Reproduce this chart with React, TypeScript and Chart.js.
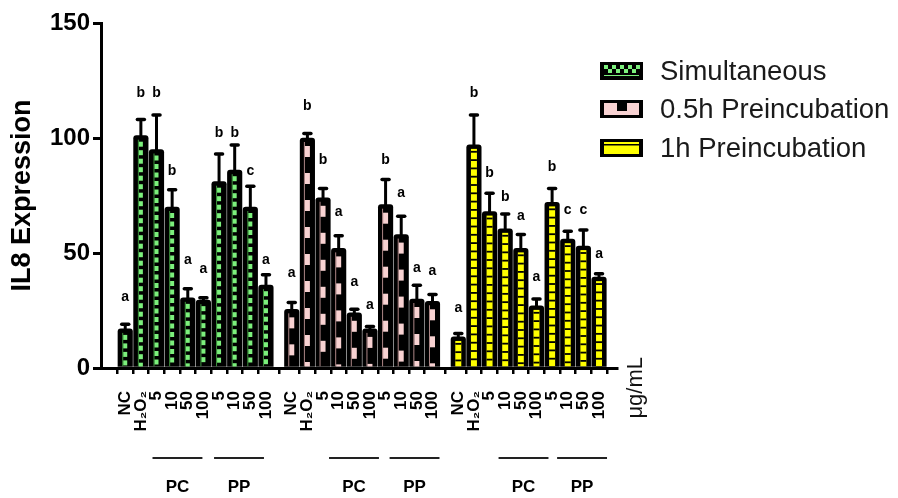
import React, { useEffect, useRef } from 'react';
import { Chart, registerables } from 'chart.js';

Chart.register(...registerables);

// ---------- data ----------
const X_LABELS = ['NC', 'H₂O₂', '5', '10', '50', '100', '5', '10', '50', '100'];
const SERIES_NAMES = ['Simultaneous', '0.5h Preincubation', '1h Preincubation'];
const GROUP_LABELS = ['PC', 'PP'];
const UNIT_LABEL = 'μg/mL';
const Y_TITLE = 'IL8 Expression';
const Y_TICKS = [0, 50, 100, 150];

const SIM_VALUES = [17, 101, 95, 70, 30.5, 29.5, 81, 86, 70, 36];
const SIM_ERRORS = [2, 7, 15, 7.5, 4, 1, 12, 11, 9, 4.5];
const SIM_LETTERS = ['a', 'b', 'b', 'b', 'a', 'a', 'b', 'b', 'c', 'a'];
const SIM_LETTER_LEVEL = [31, 119.6, 119.6, 85.7, 47, 43, 102, 102, 85.7, 47];

const PRE05_VALUES = [25.5, 100, 74, 52, 24, 17, 71, 58, 30, 29];
const PRE05_ERRORS = [3, 2, 4, 5.5, 1.5, 1, 11, 8, 6, 3];
const PRE05_LETTERS = ['a', 'b', 'b', 'a', 'a', 'a', 'b', 'a', 'a', 'a'];
const PRE05_LETTER_LEVEL = [41.3, 114, 90.4, 67.8, 37.4, 27.4, 90.4, 76, 43.5, 42];

const PRE1_VALUES = [13.5, 97, 68, 60.5, 52, 27, 72, 56, 53, 39.5];
const PRE1_ERRORS = [1.5, 13, 8, 6.5, 6, 3, 6, 3.5, 7, 1.5];
const PRE1_LETTERS = ['a', 'b', 'b', 'b', 'a', 'a', 'b', 'c', 'c', 'a'];
const PRE1_LETTER_LEVEL = [26, 119.6, 84.8, 74.3, 66, 39.6, 87.4, 68.7, 68.7, 49.6];

const VALUES = [SIM_VALUES, PRE05_VALUES, PRE1_VALUES];
const ERRORS = [SIM_ERRORS, PRE05_ERRORS, PRE1_ERRORS];
const LETTERS = [SIM_LETTERS, PRE05_LETTERS, PRE1_LETTERS];
const LETTER_LEVEL = [SIM_LETTER_LEVEL, PRE05_LETTER_LEVEL, PRE1_LETTER_LEVEL];

// ---------- layout / style ----------
const FONT = "'Liberation Sans', Arial, Helvetica, sans-serif";
const GROUP_STRIDE = 10.65;
const posOf = (g: number, i: number) => g * GROUP_STRIDE + i;
const ALL_POS: number[] = [];
for (let g = 0; g < 3; g++) for (let i = 0; i < X_LABELS.length; i++) ALL_POS.push(posOf(g, i));
const BRACKET_SHIFT = [[-2, -3], [8, 6], [11, 7]];

const GREEN = '#7CF07C';
const PINK = '#F8D2D2';
const YELLOW = '#FFFF00';

const decorPlugin = {
  id: 'decor',
  afterDatasetsDraw(chart: any) {
    const ctx = chart.ctx as CanvasRenderingContext2D;
    const yScale = chart.scales.y;
    for (let di = 0; di < chart.data.datasets.length; di++) {
      const meta = chart.getDatasetMeta(di);
      meta.data.forEach((bar: any, i: number) => {
        const { x, y, base, width } = bar.getProps(['x', 'y', 'base', 'width'], true);
        ctx.save();
        ctx.beginPath();
        ctx.rect(x - width / 2 + 2, y + 3, width - 4, base - y - 3);
        ctx.clip();
        if (di === 0) {
          ctx.strokeStyle = '#4DB84D';
          ctx.lineWidth = 0.8;
          ctx.beginPath();
          ctx.moveTo(x - 2.5, y + 4);
          ctx.lineTo(x - 2.5, base);
          ctx.stroke();
          ctx.fillStyle = GREEN;
          for (let yy = y + 6; yy < base - 2; yy += 8.5) ctx.fillRect(x - 2, yy, 4, 5);
        } else if (di === 1) {
          ctx.strokeStyle = '#D9A8A8';
          ctx.lineWidth = 0.8;
          ctx.beginPath();
          ctx.moveTo(x - 3, y + 4);
          ctx.lineTo(x - 3, base);
          ctx.stroke();
          ctx.fillStyle = PINK;
          for (let yy = y + 8; yy < base - 2; yy += 27) ctx.fillRect(x - 2.5, yy, 5, 11);
        } else {
          ctx.fillStyle = YELLOW;
          ctx.fillRect(x - 3, y + 4, 6, base - y - 4);
          ctx.fillStyle = '#000';
          for (let yy = y + 6; yy < base; yy += 8.3) ctx.fillRect(x - 3, yy, 6, 1.8);
        }
        ctx.restore();

        // error bar
        const top = yScale.getPixelForValue(VALUES[di][i] + ERRORS[di][i]);
        ctx.save();
        ctx.strokeStyle = '#000';
        ctx.lineWidth = 3;
        ctx.beginPath();
        ctx.moveTo(x, y + 2);
        ctx.lineTo(x, top);
        ctx.stroke();
        ctx.lineCap = 'round';
        ctx.lineWidth = 3.5;
        ctx.beginPath();
        ctx.moveTo(x - 3.5, top);
        ctx.lineTo(x + 3.5, top);
        ctx.stroke();
        // letter
        ctx.fillStyle = '#000';
        ctx.font = `bold 14px ${FONT}`;
        ctx.textAlign = 'center';
        ctx.textBaseline = 'middle';
        ctx.fillText(LETTERS[di][i], x, yScale.getPixelForValue(LETTER_LEVEL[di][i]));
        ctx.restore();
      });
    }
  },
  afterDraw(chart: any) {
    const ctx = chart.ctx as CanvasRenderingContext2D;
    const xScale = chart.scales.x;
    const area = chart.chartArea;
    ctx.save();
    // PC / PP brackets
    ctx.strokeStyle = '#222';
    ctx.lineWidth = 1.8;
    ctx.fillStyle = '#000';
    ctx.font = `bold 17px ${FONT}`;
    ctx.textAlign = 'center';
    ctx.textBaseline = 'middle';
    for (let g = 0; g < 3; g++) {
      GROUP_LABELS.forEach((lab, k) => {
        const first = 2 + k * 4;
        const last = first + 3;
        const shift = BRACKET_SHIFT[g][k];
        const x0 = xScale.getPixelForValue(posOf(g, first)) - 2 + shift;
        const x1 = xScale.getPixelForValue(posOf(g, last)) + 1 + shift;
        const ly = area.bottom + 90;
        ctx.beginPath();
        ctx.moveTo(x0, ly);
        ctx.lineTo(x1, ly);
        ctx.stroke();
        ctx.fillText(lab, (x0 + x1) / 2, area.bottom + 119);
      });
    }
    // unit label
    ctx.save();
    ctx.translate(area.right + 19, area.bottom - 11);
    ctx.rotate(-Math.PI / 2);
    ctx.textAlign = 'right';
    ctx.textBaseline = 'middle';
    ctx.font = `22px ${FONT}`;
    ctx.fillStyle = '#111';
    ctx.fillText(UNIT_LABEL, 0, 0);
    ctx.restore();

    // legend
    const rows = [71, 109, 148];
    const bx = 600, bw = 43, bh = 18;
    SERIES_NAMES.forEach((name, k) => {
      const cy = rows[k];
      const by = cy - bh / 2;
      ctx.fillStyle = '#000';
      ctx.fillRect(bx, by, bw, bh);
      if (k === 0) {
        ctx.fillStyle = GREEN;
        for (let c = 0; c < 9; c++) {
          for (let r = 0; r < 2; r++) {
            if ((c + r) % 2 === 0) ctx.fillRect(bx + 4 + c * 4, by + 3 + r * 4, 4, 4);
          }
        }
        ctx.fillRect(bx + 4, by + 13, bw - 8, 1);
      } else if (k === 1) {
        ctx.fillStyle = PINK;
        ctx.fillRect(bx + 4, by + 3, bw - 8, bh - 6);
        ctx.fillStyle = '#000';
        ctx.fillRect(bx + 17, by + 3, 10, 8);
      } else {
        ctx.fillStyle = YELLOW;
        ctx.fillRect(bx + 4, by + 3, bw - 8, bh - 6);
        ctx.fillStyle = '#000';
        ctx.fillRect(bx + 4, by + 5, bw - 8, 1.5);
      }
      ctx.fillStyle = '#1a1a1a';
      ctx.font = `27.5px ${FONT}`;
      ctx.textAlign = 'left';
      ctx.textBaseline = 'middle';
      ctx.fillText(name, 660, cy + 1);
    });
    ctx.restore();
  },
};

export default function App() {
  const canvasRef = useRef<HTMLCanvasElement | null>(null);

  useEffect(() => {
    if (!canvasRef.current) return;
    const datasets = VALUES.map((vals, g) => ({
      label: SERIES_NAMES[g],
      data: vals.map((v, i) => ({ x: posOf(g, i), y: v })),
      backgroundColor: '#000',
      borderWidth: 0,
      borderRadius: 3,
      barThickness: 14.5,
      grouped: false,
    }));
    const chart = new Chart(canvasRef.current, {
      type: 'bar',
      data: { datasets } as any,
      plugins: [decorPlugin],
      options: {
        animation: false,
        responsive: false,
        layout: { padding: { left: 0, right: 281, top: 23, bottom: 0 } },
        plugins: { legend: { display: false }, tooltip: { enabled: false } },
        scales: {
          x: {
            type: 'linear',
            min: -1,
            max: 30.9,
            afterBuildTicks: (s: any) => {
              s.ticks = ALL_POS.map((v) => ({ value: v }));
            },
            afterFit: (s: any) => {
              s.height = 130;
            },
            grid: { drawOnChartArea: false, tickLength: 6, lineWidth: 2.5, color: '#000' },
            border: { display: true, width: 3, color: '#000' },
            ticks: {
              autoSkip: false,
              minRotation: 90,
              maxRotation: 90,
              padding: 17,
              color: '#000',
              font: { family: FONT, size: 17, weight: 'bold' },
              callback: (_v: any, i: number) => X_LABELS[i % X_LABELS.length],
            },
          },
          y: {
            type: 'linear',
            min: 0,
            max: 150,
            afterBuildTicks: (s: any) => {
              s.ticks = Y_TICKS.map((v) => ({ value: v }));
            },
            afterFit: (s: any) => {
              s.width = 101;
            },
            grid: { drawOnChartArea: false, tickLength: 8, lineWidth: 3, color: '#000' },
            border: { display: true, width: 3, color: '#000' },
            ticks: {
              padding: 3,
              color: '#000',
              font: { family: FONT, size: 24, weight: 'bold' },
            },
            title: {
              display: true,
              text: Y_TITLE,
              color: '#000',
              font: { family: FONT, size: 27, weight: 'bold' },
              padding: { top: 6, bottom: 0 },
            },
          },
        },
      } as any,
    });
    return () => chart.destroy();
  }, []);

  return (
    <div style={{ position: 'absolute', left: 0, top: 0, width: 898, height: 498, background: '#fff' }}>
      <canvas ref={canvasRef} width={898} height={498} />
    </div>
  );
}
